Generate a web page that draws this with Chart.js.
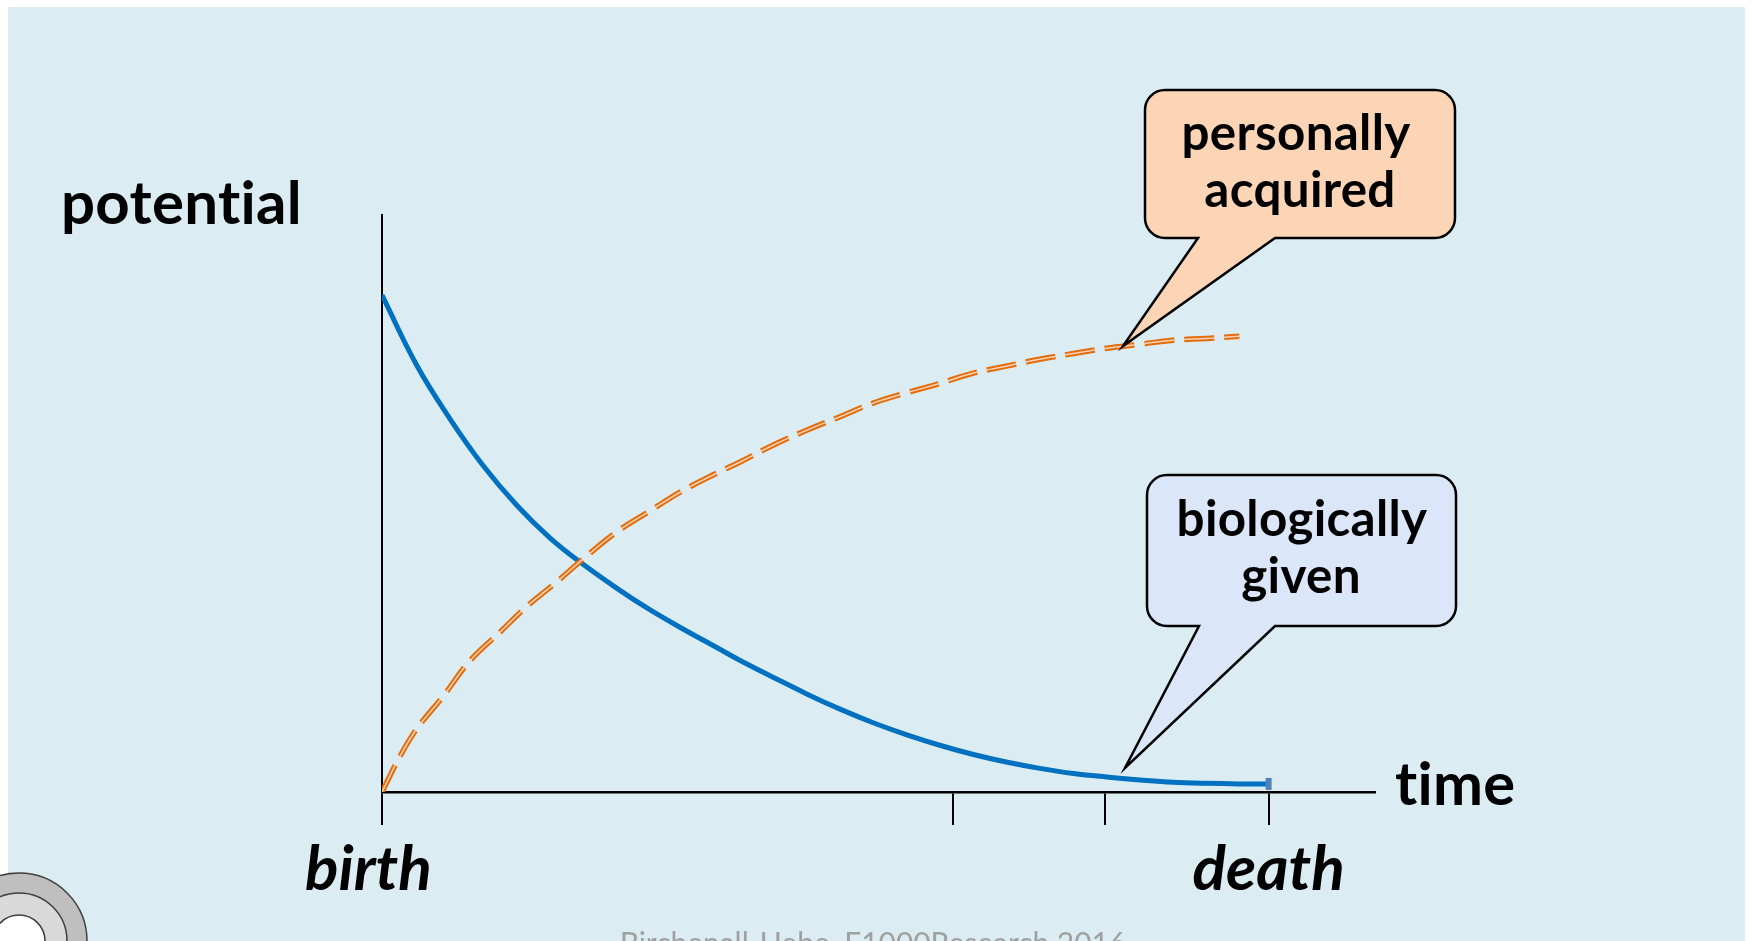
<!DOCTYPE html>
<html>
<head>
<meta charset="utf-8">
<script src="https://cdn.jsdelivr.net/npm/chart.js@4.4.1/dist/chart.umd.min.js"></script>
<style>
  html, body { margin: 0; padding: 0; background: #fff; }
  canvas { display: block; }
</style>
</head>
<body>
<canvas id="chart" width="1753" height="941"></canvas>
<script>
// time runs from birth (0) to death (100), potential from 0 to 100
const tickValues = [0, 64.4, 81.5, 100];
const tickLabels = ['birth  ', '', '', 'death'];

const biologicalTime = [0, 3.9, 7.7, 11.4, 15.2, 18.9, 22.3, 26.5, 30.2, 33.9, 37.8, 40.4, 44.1, 47.9,
  51.6, 55.4, 59.2, 62.9, 66.7, 70.4, 74.2, 78.0, 81.7, 85.5, 89.2, 93.0, 96.7, 100];
const biologicalPotential = [86.1, 74.0, 64.6, 56.6, 49.7, 44.1, 39.9, 35.3, 31.6, 28.3, 25.0, 22.8, 19.9, 17.0,
  14.4, 12.0, 9.9, 8.1, 6.5, 5.2, 4.1, 3.2, 2.6, 2.1, 1.7, 1.5, 1.4, 1.4];

const acquiredTime = [0, 2.0, 3.9, 6.9, 9.9, 13.3, 16.3, 19.7, 22.7, 26.5, 30.2, 33.9, 37.8, 40.4, 44.1,
  47.9, 51.6, 55.4, 59.2, 62.9, 66.7, 70.4, 74.2, 78.0, 81.7, 85.5, 89.2, 93.0, 96.7];
const acquiredPotential = [0, 6.1, 10.9, 16.6, 22.7, 27.7, 32.1, 36.4, 40.4, 45.1, 48.7, 52.2, 55.3, 57.2, 60.1,
  62.7, 65.0, 67.4, 69.2, 70.8, 72.6, 73.8, 75.0, 76.0, 76.9, 77.6, 78.3, 78.6, 79.0];

const toPoints = (xs, ys) => xs.map((x, i) => ({ x: x, y: ys[i] }));

const FONT = 'Lato, "Open Sans", sans-serif';

function fitSize(ctx, text, width, style) {
  ctx.font = style + ' 100px ' + FONT;
  return 100 * width / ctx.measureText(text).width;
}

function drawCallout(ctx, box, tail, fill, lines) {
  const r = 20;
  const { x0, y0, x1, y1 } = box;
  ctx.beginPath();
  ctx.moveTo(x0 + r, y0);
  ctx.lineTo(x1 - r, y0);
  ctx.arcTo(x1, y0, x1, y0 + r, r);
  ctx.lineTo(x1, y1 - r);
  ctx.arcTo(x1, y1, x1 - r, y1, r);
  ctx.lineTo(tail.b, y1);
  ctx.lineTo(tail.tx, tail.ty);
  ctx.lineTo(tail.a, y1);
  ctx.lineTo(x0 + r, y1);
  ctx.arcTo(x0, y1, x0, y1 - r, r);
  ctx.lineTo(x0, y0 + r);
  ctx.arcTo(x0, y0, x0 + r, y0, r);
  ctx.closePath();
  ctx.fillStyle = fill;
  ctx.fill();
  ctx.lineWidth = 2.5;
  ctx.lineJoin = 'miter';
  ctx.strokeStyle = '#000';
  ctx.stroke();

  ctx.fillStyle = '#000';
  ctx.textAlign = 'center';
  ctx.textBaseline = 'alphabetic';
  lines.forEach(l => {
    ctx.font = 'bold ' + l.size + 'px ' + FONT;
    ctx.fillText(l.text, l.cx, l.baseline);
  });
}

const backdrop = {
  id: 'backdrop',
  beforeDraw(chart) {
    const ctx = chart.ctx;
    ctx.save();
    ctx.fillStyle = '#fff';
    ctx.fillRect(0, 0, chart.width, chart.height);
    ctx.fillStyle = '#DBEDF3';
    ctx.fillRect(8, 7, 1737, 934);

    // footer credit, cut by the bottom edge
    const fs = fitSize(ctx, 'Birchenall-Uebe, F1000Research 2016', 507, 'normal');
    ctx.font = fs + 'px ' + FONT;
    ctx.fillStyle = '#A0A0A0';
    ctx.textAlign = 'center';
    ctx.textBaseline = 'top';
    ctx.fillText('Birchenall-Uebe, F1000Research 2016', 873, 929);

    // round logo in the corner
    [[68, '#BFBFBF'], [48, '#D9D9D9'], [26, '#FFFFFF']].forEach(([r, c]) => {
      ctx.beginPath();
      ctx.arc(19, 941, r, 0, Math.PI * 2);
      ctx.fillStyle = c;
      ctx.fill();
      ctx.lineWidth = 1.5;
      ctx.strokeStyle = '#404040';
      ctx.stroke();
    });
    ctx.restore();
  },
  afterDraw(chart) {
    const ctx = chart.ctx;
    ctx.save();
    ctx.letterSpacing = '0.3px'; // keeps "ti" from joining into a ligature
    ctx.fillStyle = '#000';
    ctx.textAlign = 'left';
    ctx.textBaseline = 'alphabetic';
    let s = fitSize(ctx, 'potential', 240, 'bold');
    ctx.font = 'bold ' + s + 'px ' + FONT;
    ctx.fillText('potential', 61, 224);
    s = fitSize(ctx, 'time', 120, 'bold');
    ctx.font = 'bold ' + s + 'px ' + FONT;
    ctx.fillText('time', 1395, 805);

    const cs = fitSize(ctx, 'biologically', 249, 'bold');
    drawCallout(ctx, { x0: 1145, y0: 90, x1: 1455, y1: 238 },
      { a: 1198, b: 1275, tx: 1123, ty: 346 }, '#FBD5B5',
      [{ text: 'personally', cx: 1296, baseline: 150, size: cs },
       { text: 'acquired', cx: 1300, baseline: 207, size: cs }]);
    drawCallout(ctx, { x0: 1147, y0: 475, x1: 1456, y1: 626 },
      { a: 1199, b: 1275, tx: 1125, ty: 768 }, '#DBE7F9',
      [{ text: 'biologically', cx: 1302, baseline: 536, size: cs },
       { text: 'given', cx: 1301, baseline: 593, size: cs }]);
    ctx.restore();
  }
};

const lastBio = biologicalTime.length - 1;

new Chart(document.getElementById('chart'), {
  type: 'line',
  data: {
    datasets: [
      {
        label: 'biologically given',
        data: toPoints(biologicalTime, biologicalPotential),
        borderColor: '#0070C0',
        borderWidth: 5,
        tension: 0.4,
        pointStyle: 'line',
        rotation: 90,
        pointRadius: ctx => ctx.dataIndex === lastBio ? 6 : 0,
        pointBorderWidth: 6,
        pointBorderColor: '#4F81BD',
        order: 3
      },
      {
        label: 'personally acquired',
        data: toPoints(acquiredTime, acquiredPotential),
        borderColor: '#E46C0A',
        borderWidth: 5.5,
        borderDash: [30, 10],
        tension: 0.4,
        pointRadius: 0,
        order: 2
      },
      {
        label: 'personally acquired (inner)',
        data: toPoints(acquiredTime, acquiredPotential),
        borderColor: '#F9D3B8',
        borderWidth: 1.5,
        borderDash: [30, 10],
        tension: 0.4,
        pointRadius: 0,
        order: 1
      }
    ]
  },
  options: {
    responsive: false,
    animation: false,
    devicePixelRatio: 1,
    layout: { padding: { top: 215, right: 378, left: 0, bottom: 0 } },
    plugins: { legend: { display: false }, tooltip: { enabled: false } },
    scales: {
      x: {
        type: 'linear',
        min: 0,
        max: 112,
        afterFit: scale => { scale.height = 149; },
        afterBuildTicks: scale => { scale.ticks = tickValues.map(v => ({ value: v })); },
        border: { display: true, color: '#000', width: 2.5 },
        grid: { display: true, drawOnChartArea: false, drawTicks: true, tickLength: 33, color: '#000', lineWidth: 2 },
        ticks: {
          autoSkip: false,
          maxRotation: 0,
          minRotation: 0,
          padding: 8,
          color: '#000',
          font: { family: FONT, size: 62, style: 'italic', weight: 'bold' },
          callback: (v, i) => tickLabels[i]
        }
      },
      y: {
        min: 0,
        max: 100,
        afterFit: scale => { scale.width = 382; },
        border: { display: true, color: '#000', width: 2 },
        grid: { display: false },
        ticks: { display: false }
      }
    }
  },
  plugins: [backdrop]
});
</script>
</body>
</html>
